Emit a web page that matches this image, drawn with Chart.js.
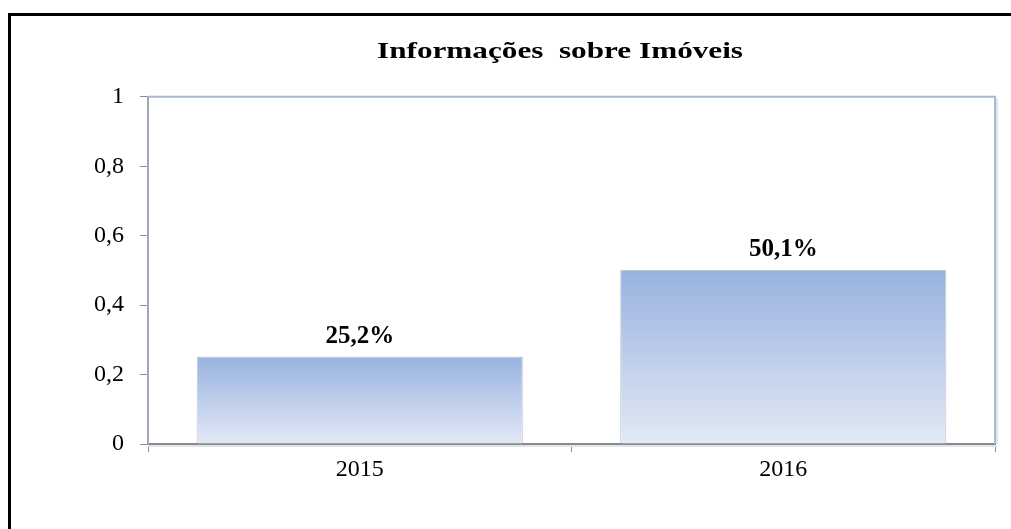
<!DOCTYPE html>
<html>
<head>
<meta charset="utf-8">
<title>Informações sobre Imóveis</title>
<script src="https://cdn.jsdelivr.net/npm/chart.js@4"></script>
<style>
  html, body { margin: 0; padding: 0; background: #fff; overflow: hidden; }
  #wrap { position: relative; width: 1011px; height: 529px; }
  #frame {
    position: absolute; left: 8px; top: 13px; width: 1100px; height: 600px;
    border-top: 3px solid #000; border-left: 3px solid #000;
  }
  #chart { position: absolute; left: 0; top: 0; }
</style>
</head>
<body>
<div id="wrap">
  <div id="frame"></div>
  <canvas id="chart" width="1011" height="529"></canvas>
</div>
<script>
// data
const years = ['2015', '2016'];
const shares = [0.252, 0.501];
const yTickValues = [0, 0.2, 0.4, 0.6, 0.8, 1];

const serif = "'Liberation Serif', 'Times New Roman', serif";
const pct = v => (v * 100).toFixed(1).replace('.', ',') + '%';

// the original title is a bit stretched sideways and sits left of the plot centre
const titleStretch = {
    id: 'titleStretch',
    beforeDraw(chart) {
        const tb = chart.titleBlock;
        if (tb && !tb._stretched) {
            const draw = tb.draw.bind(tb);
            tb.draw = (area) => {
                const mid = (tb.left + tb.right) / 2;
                const ctx = chart.ctx;
                ctx.save();
                ctx.translate(560, 0);
                ctx.scale(1.3, 1);
                ctx.translate(-mid, 0);
                draw(area);
                ctx.restore();
            };
            tb._stretched = true;
        }
    }
};

// top and right edges of the plot area
const plotFrame = {
    id: 'plotFrame',
    beforeDatasetsDraw(chart) {
        const { ctx, chartArea: a } = chart;
        ctx.save();
        ctx.lineWidth = 2;
        ctx.strokeStyle = '#dfe5ee';
        ctx.beginPath();
        ctx.moveTo(a.right + 2, a.top + 2);
        ctx.lineTo(a.right + 2, a.bottom);
        ctx.moveTo(a.left, a.bottom + 2);
        ctx.lineTo(a.right + 2, a.bottom + 2);
        ctx.stroke();
        ctx.strokeStyle = '#a8b8d6';
        ctx.beginPath();
        ctx.moveTo(a.left, a.top);
        ctx.lineTo(a.right, a.top);
        ctx.lineTo(a.right, a.bottom);
        ctx.stroke();
        ctx.restore();
    }
};

// value labels above the bars
const barLabels = {
    id: 'barLabels',
    afterDatasetsDraw(chart) {
        const ctx = chart.ctx;
        const meta = chart.getDatasetMeta(0);
        ctx.save();
        ctx.font = 'bold 25px ' + serif;
        ctx.fillStyle = '#000';
        ctx.textAlign = 'center';
        ctx.textBaseline = 'alphabetic';
        meta.data.forEach((bar, i) => {
            ctx.fillText(pct(shares[i]), bar.x, bar.y - 14);
        });
        ctx.restore();
    }
};

new Chart(document.querySelector('#chart'), {
    type: 'bar',
    data: {
        labels: years,
        datasets: [{
            data: shares,
            backgroundColor: (c) => {
                const chart = c.chart;
                if (!chart.chartArea || c.type !== 'data') return '#b8c9ea';
                const y = chart.scales.y;
                const g = chart.ctx.createLinearGradient(0, y.getPixelForValue(c.raw), 0, y.getPixelForValue(0));
                g.addColorStop(0, '#98b2e0');
                g.addColorStop(1, '#e3e9f5');
                return g;
            },
            borderColor: '#c3c7cf',
            borderWidth: 1,
            barPercentage: 0.77,
            categoryPercentage: 1
        }]
    },
    options: {
        responsive: false,
        animation: false,
        layout: { padding: { left: 0, right: 16, top: 0, bottom: 0 } },
        plugins: {
            legend: { display: false },
            tooltip: { enabled: false },
            title: {
                display: true,
                text: 'Informações  sobre Imóveis',
                color: '#000',
                font: { family: serif, size: 24, weight: 'bold', lineHeight: 1.2 },
                padding: { top: 37, bottom: 31 }
            }
        },
        scales: {
            x: {
                afterFit: (s) => { s.height = 85; },
                grid: { drawOnChartArea: false, tickLength: 8, color: '#8a8a8a', offset: true },
                border: { color: '#8a8a8a', width: 2 },
                ticks: { color: '#000', padding: 3, font: { family: serif, size: 24 } }
            },
            y: {
                min: 0,
                max: 1,
                afterFit: (s) => { s.width = 148; },
                afterBuildTicks: (s) => { s.ticks = yTickValues.map(v => ({ value: v })); },
                grid: { drawOnChartArea: false, tickLength: 8, color: '#8a8a8a' },
                border: { color: '#9ea7b8', width: 2 },
                ticks: {
                    color: '#000',
                    padding: 16,
                    font: { family: serif, size: 24 },
                    callback: (v) => String(v).replace('.', ',')
                }
            }
        }
    },
    plugins: [titleStretch, plotFrame, barLabels]
});
</script>
</body>
</html>
